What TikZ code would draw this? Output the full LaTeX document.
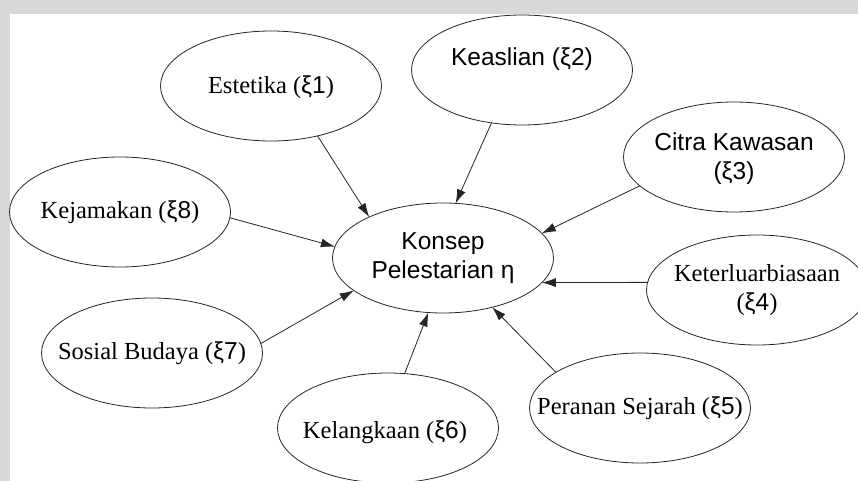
\documentclass[tikz,border=0pt]{standalone}
\usepackage{fontspec}
\setmainfont{Liberation Serif}
\setsansfont{Liberation Sans}
\usetikzlibrary{shapes.geometric,arrows.meta}
\newcommand{\xn}[1]{({\sffamily ξ#1})}
\begin{document}
\begin{tikzpicture}[x=1pt,y=-1pt,
  ell/.style={ellipse,draw=black!85,line width=0.8pt,minimum width=221pt,minimum height=110pt,inner sep=0pt,outer sep=0pt},
  txt/.style={inner sep=0pt,align=center,font=\fontsize{24.5pt}{29pt}\selectfont},
  arr/.style={draw=black!85,line width=0.8pt,-{Latex[length=14pt,width=9pt]}}]
\useasboundingbox (0,0) rectangle (858,481);
\fill[black!15] (0,0) rectangle (858,481);
\fill[white] (10,14) rectangle (858,481);
\node[ell] (eta) at (443,258) {};
\node[txt] (etat) at (443,258) {\sffamily Konsep\\\sffamily Pelestarian η};
\node[ell] (k1) at (271,86) {};
\node[txt] (k1t) at (271,87) {Estetika \xn{1}};
\node[ell] (k2) at (522,70) {};
\node[txt] (k2t) at (522,59) {\sffamily Keaslian (ξ2)};
\node[ell] (k3) at (734,157) {};
\node[txt] (k3t) at (734,159) {\sffamily Citra Kawasan\\\sffamily (ξ3)};
\node[ell] (k4) at (757,290) {};
\node[txt] (k4t) at (757,290) {Keterluarbiasaan\\\xn{4}};
\node[ell] (k5) at (640,408) {};
\node[txt] (k5t) at (640,408) {Peranan Sejarah \xn{5}};
\node[ell] (k6) at (388,428) {};
\node[txt] (k6t) at (385,432) {Kelangkaan \xn{6}};
\node[ell] (k7) at (152,353) {};
\node[txt] (k7t) at (152,353) {Sosial Budaya \xn{7}};
\node[ell] (k8) at (120,212) {};
\node[txt] (k8t) at (120,212) {Kejamakan \xn{8}};
\draw[arr] (k1.-47.3) -- (eta.151.7);
\draw[arr] (k2.-120.2) -- (eta.77.7);
\draw[arr] (k3.-163.4) -- (eta.14.2);
\draw[arr] (k4.176) -- (eta.-14);
\draw[arr] (k5.157) -- (eta.-45.6);
\draw[arr] (k6.73.6) -- (eta.-105.7);
\draw[arr] (k7.5.7) -- (eta.-160.4);
\draw[arr] (k8.-3) -- (eta.174);
\end{tikzpicture}
\end{document}
